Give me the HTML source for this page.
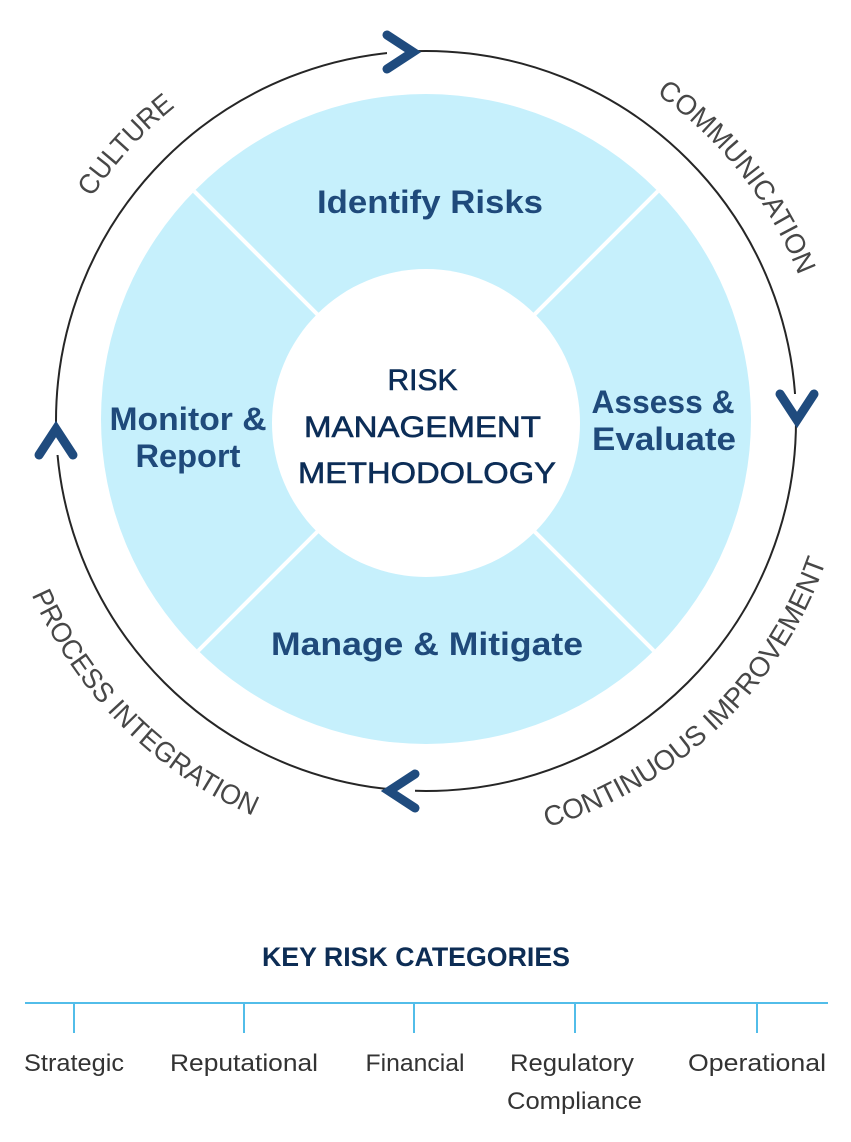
<!DOCTYPE html>
<html>
<head>
<meta charset="utf-8">
<style>
  html, body { margin: 0; padding: 0; background: #ffffff; }
  body { width: 851px; height: 1142px; overflow: hidden; }
  svg { display: block; }
</style>
</head>
<body>
<svg width="851" height="1142" viewBox="0 0 851 1142" xmlns="http://www.w3.org/2000/svg">
  <defs>
    <path id="pCulture" d="M24.4,402.8 A402,402 0 0 1 374.2,22.3"/>
    <path id="pComm" d="M508.5,29.6 A400,400 0 0 1 825.8,434.3"/>
    <path id="pCont" d="M379.1,842.4 A424,424 0 0 0 849.1,394.0"/>
    <path id="pProc" d="M-5,421.4 A431,431 0 0 0 426.4,852"/>
    <clipPath id="diskClip"><circle cx="426" cy="419" r="325"/></clipPath>
  </defs>

  <!-- outer ring -->
  <circle cx="426" cy="421" r="370" fill="none" stroke="#262626" stroke-width="2"/>

  <!-- blue disk -->
  <circle cx="426" cy="419" r="325" fill="#c6f0fc"/>
  <!-- dividers -->
  <g clip-path="url(#diskClip)" stroke="#ffffff" stroke-width="4">
    <line x1="126" y1="123" x2="726" y2="723"/>
    <line x1="726" y1="123" x2="126" y2="723"/>
  </g>
  <!-- inner white circle -->
  <circle cx="426" cy="423" r="154" fill="#ffffff"/>

  <!-- chevrons -->
  <g stroke="#1f4b7e" stroke-width="9" stroke-linecap="round" stroke-linejoin="miter" stroke-miterlimit="10" fill="#ffffff">
    <g transform="translate(413,52)">
      <polygon points="0,0 -26,-17 -26,17" stroke="none"/>
      <polyline points="-26,-17 0,0 -26,17" fill="none"/>
    </g>
    <g transform="translate(797,420) rotate(90)">
      <polygon points="0,0 -26,-17 -26,17" stroke="none"/>
      <polyline points="-26,-17 0,0 -26,17" fill="none"/>
    </g>
    <g transform="translate(389,791) rotate(180)">
      <polygon points="0,0 -26,-17 -26,17" stroke="none"/>
      <polyline points="-26,-17 0,0 -26,17" fill="none"/>
    </g>
    <g transform="translate(56,429) rotate(-90)">
      <polygon points="0,0 -26,-17 -26,17" stroke="none"/>
      <polyline points="-26,-17 0,0 -26,17" fill="none"/>
    </g>
  </g>

  <!-- curved labels -->
  <g font-family="'Liberation Sans', sans-serif" font-size="28" fill="#474747" text-anchor="middle">
    <text><textPath href="#pCulture" startOffset="50%" textLength="124" lengthAdjust="spacingAndGlyphs">CULTURE</textPath></text>
    <text><textPath href="#pComm" startOffset="50%" textLength="234" lengthAdjust="spacingAndGlyphs">COMMUNICATION</textPath></text>
    <text><textPath href="#pCont" startOffset="50%" textLength="400" lengthAdjust="spacingAndGlyphs">CONTINUOUS IMPROVEMENT</textPath></text>
    <text><textPath href="#pProc" startOffset="50%" textLength="320" lengthAdjust="spacingAndGlyphs">PROCESS INTEGRATION</textPath></text>
  </g>

  <!-- quadrant labels -->
  <g font-family="'Liberation Sans', sans-serif" font-weight="bold" font-size="32" fill="#1f4a7b" text-anchor="middle">
    <text x="430" y="213" textLength="226" lengthAdjust="spacingAndGlyphs">Identify Risks</text>
    <text x="427" y="655" textLength="312" lengthAdjust="spacingAndGlyphs">Manage &amp; Mitigate</text>
    <text x="188" y="430" textLength="157" lengthAdjust="spacingAndGlyphs">Monitor &amp;</text>
    <text x="188" y="467" textLength="105" lengthAdjust="spacingAndGlyphs">Report</text>
    <text x="663" y="413" textLength="143" lengthAdjust="spacingAndGlyphs">Assess &amp;</text>
    <text x="664" y="450" textLength="144" lengthAdjust="spacingAndGlyphs">Evaluate</text>
  </g>

  <!-- center text -->
  <g font-family="'Liberation Sans', sans-serif" font-size="30" fill="#0c2d57" stroke="#0c2d57" stroke-width="0.6" text-anchor="middle">
    <text x="422.5" y="390" textLength="70" lengthAdjust="spacingAndGlyphs">RISK</text>
    <text x="422.5" y="437" textLength="237" lengthAdjust="spacingAndGlyphs">MANAGEMENT</text>
    <text x="427" y="483" textLength="258" lengthAdjust="spacingAndGlyphs">METHODOLOGY</text>
  </g>

  <!-- key risk categories -->
  <text x="416" y="966" font-family="'Liberation Sans', sans-serif" font-weight="bold" font-size="27" fill="#0d2d55" text-anchor="middle" textLength="308" lengthAdjust="spacingAndGlyphs">KEY RISK CATEGORIES</text>

  <g stroke="#52bde9" stroke-width="2">
    <line x1="25" y1="1003" x2="828" y2="1003"/>
    <line x1="74" y1="1003" x2="74" y2="1033"/>
    <line x1="244" y1="1003" x2="244" y2="1033"/>
    <line x1="414" y1="1003" x2="414" y2="1033"/>
    <line x1="575" y1="1003" x2="575" y2="1033"/>
    <line x1="757" y1="1003" x2="757" y2="1033"/>
  </g>

  <g font-family="'Liberation Sans', sans-serif" font-size="24" fill="#333333" text-anchor="middle">
    <text x="74" y="1071" textLength="100" lengthAdjust="spacingAndGlyphs">Strategic</text>
    <text x="244" y="1071" textLength="148" lengthAdjust="spacingAndGlyphs">Reputational</text>
    <text x="415" y="1071" textLength="99" lengthAdjust="spacingAndGlyphs">Financial</text>
    <text x="572" y="1071" textLength="124" lengthAdjust="spacingAndGlyphs">Regulatory</text>
    <text x="574.5" y="1109" textLength="135" lengthAdjust="spacingAndGlyphs">Compliance</text>
    <text x="757" y="1071" textLength="138" lengthAdjust="spacingAndGlyphs">Operational</text>
  </g>
</svg>
</body>
</html>
